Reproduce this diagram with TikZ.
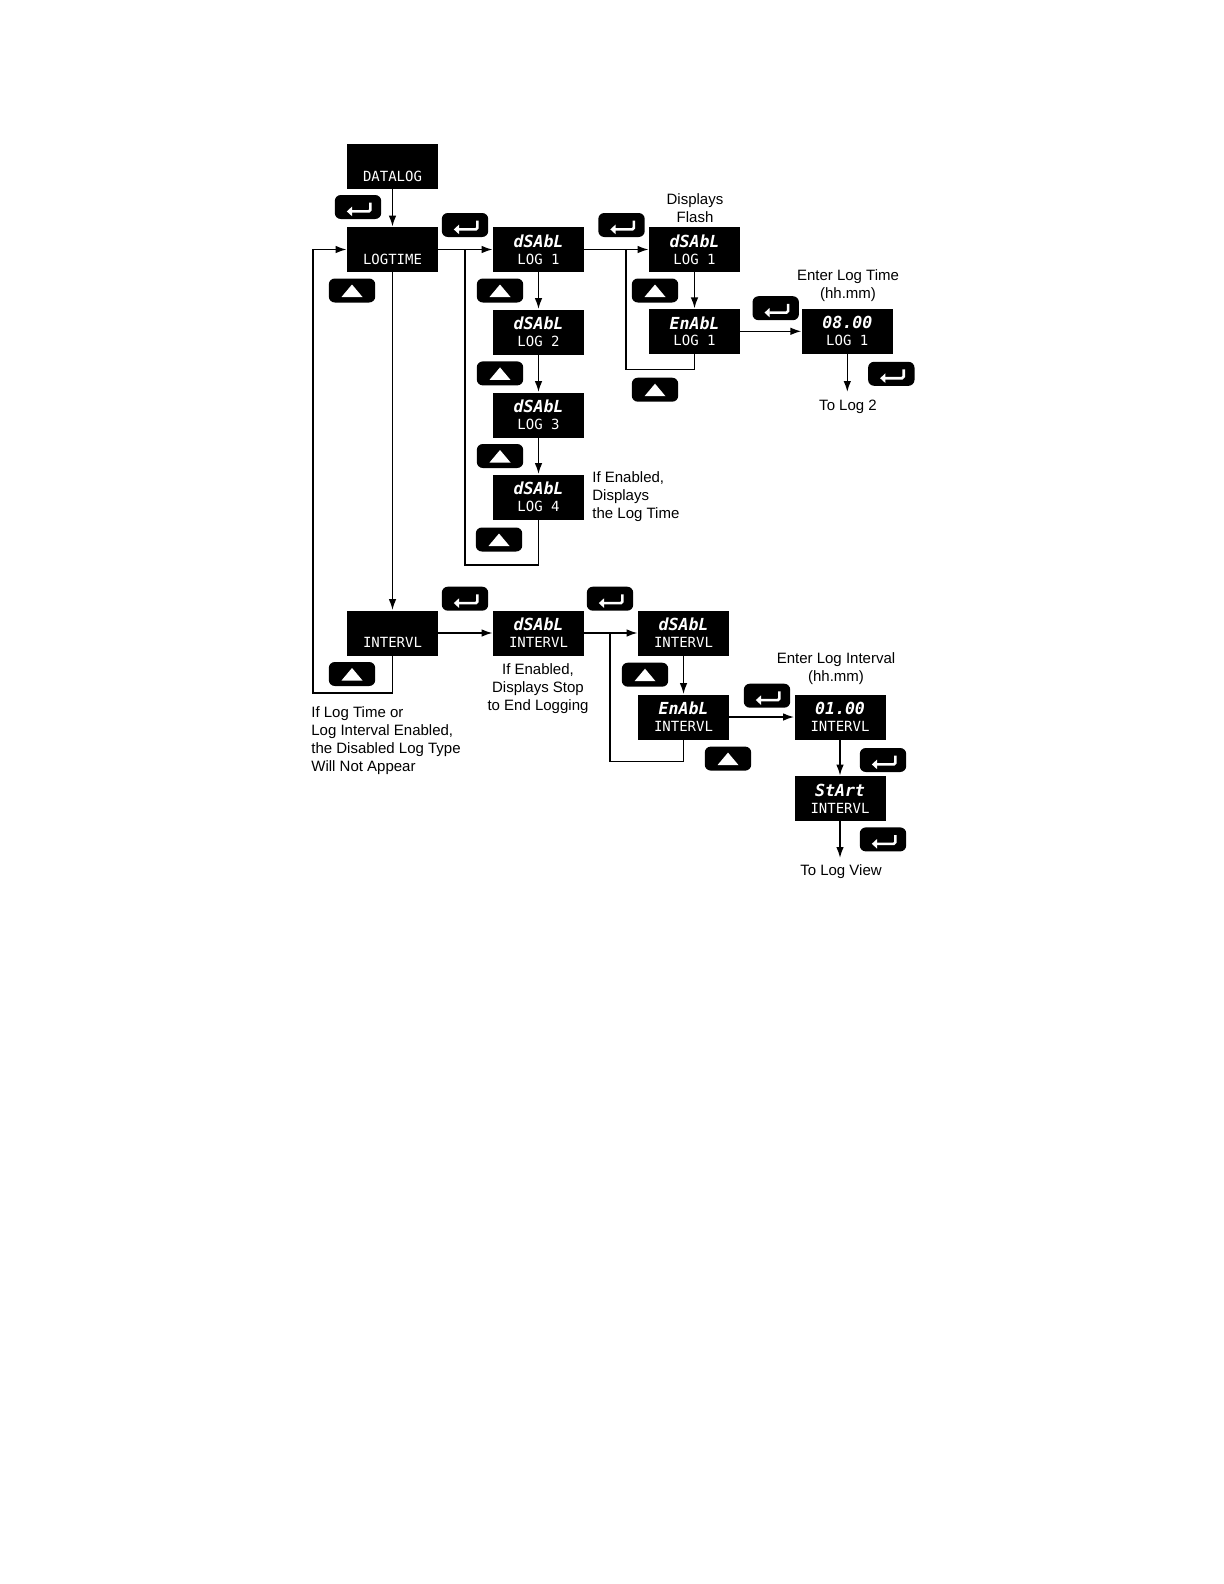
\documentclass[tikz,border=0pt]{standalone}
\usepackage{fontspec}
\setmainfont{Liberation Sans}
\newfontfamily\segmono{DejaVu Sans Mono}
\usetikzlibrary{arrows.meta}
\newcommand\topf{\segmono\bfseries\itshape\fontsize{8.3}{8.4}\selectfont}
\newcommand\botf{\segmono\fontsize{7}{8.4}\selectfont}
\tikzset{
  disp/.style={fill=black, text=white, minimum width=45.5pt, minimum height=22.5pt, inner sep=0pt, align=center, font=\fontsize{7}{8.4}\selectfont},
  btn/.style={fill=black, rounded corners=3pt, minimum width=23.2pt, minimum height=12pt, inner sep=0pt},
  entbtn/.style={btn, path picture={\draw[white, rounded corners=0.8pt, line width=1.3pt, -{Triangle[length=2.6pt,width=4.6pt]}]
      ([xshift=6.2pt,yshift=2.2pt]path picture bounding box.center) -- ++(0pt,-4.4pt) -- ++(-11.8pt,0pt);}},
  upbtn/.style={btn, path picture={\fill[white, sharp corners]
      ([shift={(-5.25pt,-3.25pt)}]path picture bounding box.center) -- ([shift={(5.25pt,-3.25pt)}]path picture bounding box.center)
      -- ([shift={(0pt,3pt)}]path picture bounding box.center) -- cycle;}},
  ln/.style={line width=0.8pt, black},
  arr/.style={ln, -{Latex[length=5.5pt,width=3.8pt]}},
  lbl/.style={font=\fontsize{7.5}{9}\selectfont, align=center, inner sep=0pt}
}
\begin{document}
\begin{tikzpicture}[x=0.5pt,y=-0.5pt]
\fill[white] (0,0) rectangle (1224,1584);
\useasboundingbox (0,0) rectangle (1224,1584);
% displays
\node[disp] (datalog) at (392.5,166.5) {{\topf\phantom{dSAbL}}\\{\botf DATALOG}};
\node[disp] (logtime) at (392.5,249.5) {{\topf\phantom{dSAbL}}\\{\botf LOGTIME}};
\node[disp] (intervl) at (392.5,633) {{\topf\phantom{dSAbL}}\\{\botf INTERVL}};
\node[disp] (d1) at (538.5,249.5) {{\topf dSAbL}\\{\botf LOG 1}};
\node[disp] (d2) at (538.5,332) {{\topf dSAbL}\\{\botf LOG 2}};
\node[disp] (d3) at (538.5,415) {{\topf dSAbL}\\{\botf LOG 3}};
\node[disp] (d4) at (538.5,497) {{\topf dSAbL}\\{\botf LOG 4}};
\node[disp] (f1) at (694.5,249.5) {{\topf dSAbL}\\{\botf LOG 1}};
\node[disp] (e1) at (694.5,331.3) {{\topf EnAbL}\\{\botf LOG 1}};
\node[disp] (t1) at (847.3,331.3) {{\topf 08.00}\\{\botf LOG 1}};
\node[disp] (di) at (538.5,633) {{\topf dSAbL}\\{\botf INTERVL}};
\node[disp] (di2) at (683.5,633) {{\topf dSAbL}\\{\botf INTERVL}};
\node[disp] (ei) at (683.5,717) {{\topf EnAbL}\\{\botf INTERVL}};
\node[disp] (ti) at (840,717) {{\topf 01.00}\\{\botf INTERVL}};
\node[disp] (st) at (840,798.5) {{\topf StArt}\\{\botf INTERVL}};
% enter buttons
\node[entbtn] (eb1) at (358,207) {};
\node[entbtn] (eb2) at (465,225) {};
\node[entbtn] (eb3) at (621.5,225) {};
\node[entbtn] (eb4) at (775.7,308.2) {};
\node[entbtn] (eb5) at (891.3,373.8) {};
\node[entbtn] (eb6) at (465,598.7) {};
\node[entbtn] (eb7) at (610,598.7) {};
\node[entbtn] (eb8) at (767,695.7) {};
\node[entbtn] (eb9) at (883,760) {};
\node[entbtn] (eb10) at (883,839.4) {};
% up buttons
\node[upbtn] (ub1) at (352,290.5) {};
\node[upbtn] (ub2) at (500,290.5) {};
\node[upbtn] (ub3) at (500,373.4) {};
\node[upbtn] (ub4) at (500,456) {};
\node[upbtn] (ub5) at (499,539.5) {};
\node[upbtn] (ub6) at (655,290.5) {};
\node[upbtn] (ub7) at (655,389.7) {};
\node[upbtn] (ub8) at (352,674) {};
\node[upbtn] (ub9) at (645,674.7) {};
\node[upbtn] (ub10) at (728,758.6) {};
% coordinates
\coordinate (b1top) at (465,249.5);
\coordinate (b1bot) at (465,565);
\coordinate (b2top) at (626,249.5);
\coordinate (b2bot) at (626,369.6);
\coordinate (b3top) at (610,633);
\coordinate (b3bot) at (610,761.5);
\coordinate (lb) at (392.5,693);
\coordinate (ll) at (313,693);
\coordinate (lt) at (313,249.5);
\coordinate (tolog2) at (847.3,392);
\coordinate (tologview) at (840,858);
% connectors
\draw[arr] (datalog) -- (logtime);
\draw[arr] (logtime) -- (d1);
\draw[arr] (logtime) -- (intervl);
\draw[ln] (b1top) -- (b1bot) -| (d4.south);
\draw[arr] (d1) -- (d2);
\draw[arr] (d2) -- (d3);
\draw[arr] (d3) -- (d4);
\draw[arr] (d1) -- (f1);
\draw[ln] (b2top) -- (b2bot) -| (e1.south);
\draw[arr] (f1) -- (e1);
\draw[arr] (e1) -- (t1);
\draw[arr] (t1) -- (tolog2);
\draw[arr] (intervl.south) -- (lb) -- (ll) -- (lt) -- (logtime.west);
\draw[arr] (intervl) -- (di);
\draw[arr] (di) -- (di2);
\draw[ln] (b3top) -- (b3bot) -| (ei.south);
\draw[arr] (di2) -- (ei);
\draw[arr] (ei) -- (ti);
\draw[arr] (ti) -- (st);
\draw[arr] (st) -- (tologview);
% labels
\node[lbl] (ldf) at (695,208) {Displays\\Flash};
\node[lbl] (lelt) at (848,286) {Enter Log Time\\(hh.mm)};
\node[lbl] (ltl2) at (848,407) {To Log 2};
\node[lbl, anchor=west, align=left] (lie) at (592,496.5) {If Enabled,\\Displays\\the Log Time};
\node[lbl] (lstop) at (538,689) {If Enabled,\\Displays Stop\\to End Logging};
\node[lbl] (leli) at (836,668.5) {Enter Log Interval\\(hh.mm)};
\node[lbl] (ltlv) at (841,871.5) {To Log View};
\node[lbl, anchor=west, align=left] (lnote) at (311,741) {If Log Time or\\Log Interval Enabled,\\the Disabled Log Type\\Will Not Appear};
\end{tikzpicture}
\end{document}
